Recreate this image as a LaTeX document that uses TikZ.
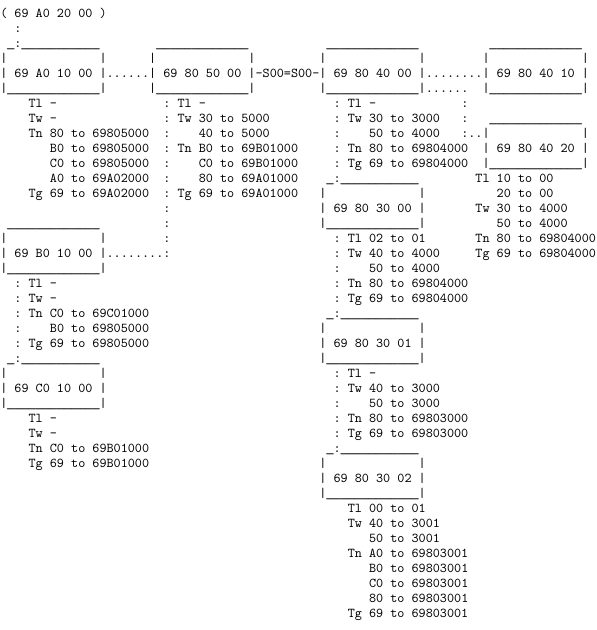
\documentclass[tikz,border=0pt]{standalone}
\usepackage{fontspec}
\usepackage{graphicx}
\usepackage{tikz}
\frenchspacing

% wider underscore, so a run of them reads as one line
\newcommand{\ulchar}{\makebox[0.525em][c]{\scalebox{1.4}[1]{\symbol{95}}}}
\begingroup
\catcode`\_=\active
\gdef_{\ulchar}
\endgroup

\begin{document}
\catcode`\_=\active
\begin{tikzpicture}[
    x=5.32pt, y=-11.25pt,
    txt/.style={anchor=base west, inner sep=0pt, font=\ttfamily\fontsize{10.13pt}{11.25pt}\selectfont}
]
  \useasboundingbox (0,-1.165) rectangle (84.16,40.84);

  % --- ROOT ---
  \node[txt] (root) at (0,0) {( 69 A0 20 00 )};
  \node[txt] (root-a0) at (2,1) {:};

  % --- TOP ROW OF BOXES ---
  \node[txt] (a0-top) at (1,2) {_:___________};
  \node[txt] (m50-top) at (22,2) {_____________};
  \node[txt] (m40-top) at (46,2) {_____________};
  \node[txt] (m41-top) at (69,2) {_____________};

  \node[txt] (a0-side) at (0,3) {|~~~~~~~~~~~~~|};
  \node[txt] (m50-side) at (21,3) {|~~~~~~~~~~~~~|};
  \node[txt] (m40-side) at (45,3) {|~~~~~~~~~~~~~|};
  \node[txt] (m41-side) at (68,3) {|~~~~~~~~~~~~~|};

  \node[txt] (a0) at (0,4) {| 69 A0 10 00 |};
  \node[txt] (a0-m50) at (15,4) {......};
  \node[txt] (m50) at (21,4) {| 69 80 50 00 |};
  \node[txt] (m50-m40) at (36,4) {-S00=S00-};
  \node[txt] (m40) at (45,4) {| 69 80 40 00 |};
  \node[txt] (m40-m41) at (60,4) {........};
  \node[txt] (m41) at (68,4) {| 69 80 40 10 |};

  \node[txt] (a0-bot) at (0,5) {|_____________|};
  \node[txt] (m50-bot) at (21,5) {|_____________|};
  \node[txt] (m40-bot) at (45,5) {|_____________|};
  \node[txt] (m40-m42) at (60,5) {......};
  \node[txt] (m41-bot) at (68,5) {|_____________|};

  % --- 69 A0 10 00 ---
  \node[txt] (a0-1) at (4,6) {Tl -};
  \node[txt] (a0-2) at (4,7) {Tw -};
  \node[txt] (a0-3) at (4,8) {Tn 80 to 69805000};
  \node[txt] (a0-4) at (7,9) {B0 to 69805000};
  \node[txt] (a0-5) at (7,10) {C0 to 69805000};
  \node[txt] (a0-6) at (7,11) {A0 to 69A02000};
  \node[txt] (a0-7) at (4,12) {Tg 69 to 69A02000};

  % --- 69 80 50 00 ---
  \node[txt] (m50-1) at (23,6) {: Tl -};
  \node[txt] (m50-2) at (23,7) {: Tw 30 to 5000};
  \node[txt] (m50-3c) at (23,8) {:};
  \node[txt] (m50-3) at (28,8) {40 to 5000};
  \node[txt] (m50-4) at (23,9) {: Tn B0 to 69B01000};
  \node[txt] (m50-5c) at (23,10) {:};
  \node[txt] (m50-5) at (28,10) {C0 to 69B01000};
  \node[txt] (m50-6c) at (23,11) {:};
  \node[txt] (m50-6) at (28,11) {80 to 69A01000};
  \node[txt] (m50-7) at (23,12) {: Tg 69 to 69A01000};
  \node[txt] (m50-b0a) at (23,13) {:};
  \node[txt] (m50-b0b) at (23,14) {:};
  \node[txt] (m50-b0c) at (23,15) {:};

  % --- 69 80 40 00 ---
  \node[txt] (m40-1) at (47,6) {: Tl -};
  \node[txt] (m40-2) at (47,7) {: Tw 30 to 3000};
  \node[txt] (m40-3c) at (47,8) {:};
  \node[txt] (m40-3) at (52,8) {50 to 4000};
  \node[txt] (m40-4) at (47,9) {: Tn 80 to 69804000};
  \node[txt] (m40-5) at (47,10) {: Tg 69 to 69804000};
  \node[txt] (m42-a) at (65,6) {:};
  \node[txt] (m42-b) at (65,7) {:};

  % --- 69 80 40 20 ---
  \node[txt] (m42-top) at (69,7) {_____________};
  \node[txt] (m42-side) at (65,8) {:..|~~~~~~~~~~~~~|};
  \node[txt] (m42) at (68,9) {| 69 80 40 20 |};
  \node[txt] (m42-bot) at (68,10) {|_____________|};
  \node[txt] (m42-1) at (67,11) {Tl 10 to 00};
  \node[txt] (m42-2) at (70,12) {20 to 00};
  \node[txt] (m42-3) at (67,13) {Tw 30 to 4000};
  \node[txt] (m42-4) at (70,14) {50 to 4000};
  \node[txt] (m42-5) at (67,15) {Tn 80 to 69804000};
  \node[txt] (m42-6) at (67,16) {Tg 69 to 69804000};

  % --- 69 80 30 00 ---
  \node[txt] (m30-top) at (46,11) {_:___________};
  \node[txt] (m30-side) at (45,12) {|~~~~~~~~~~~~~|};
  \node[txt] (m30) at (45,13) {| 69 80 30 00 |};
  \node[txt] (m30-bot) at (45,14) {|_____________|};
  \node[txt] (m30-1) at (47,15) {: Tl 02 to 01};
  \node[txt] (m30-2) at (47,16) {: Tw 40 to 4000};
  \node[txt] (m30-3c) at (47,17) {:};
  \node[txt] (m30-3) at (52,17) {50 to 4000};
  \node[txt] (m30-4) at (47,18) {: Tn 80 to 69804000};
  \node[txt] (m30-5) at (47,19) {: Tg 69 to 69804000};

  % --- 69 80 30 01 ---
  \node[txt] (m31-top) at (46,20) {_:___________};
  \node[txt] (m31-side) at (45,21) {|~~~~~~~~~~~~~|};
  \node[txt] (m31) at (45,22) {| 69 80 30 01 |};
  \node[txt] (m31-bot) at (45,23) {|_____________|};
  \node[txt] (m31-1) at (47,24) {: Tl -};
  \node[txt] (m31-2) at (47,25) {: Tw 40 to 3000};
  \node[txt] (m31-3c) at (47,26) {:};
  \node[txt] (m31-3) at (52,26) {50 to 3000};
  \node[txt] (m31-4) at (47,27) {: Tn 80 to 69803000};
  \node[txt] (m31-5) at (47,28) {: Tg 69 to 69803000};

  % --- 69 80 30 02 ---
  \node[txt] (m32-top) at (46,29) {_:___________};
  \node[txt] (m32-side) at (45,30) {|~~~~~~~~~~~~~|};
  \node[txt] (m32) at (45,31) {| 69 80 30 02 |};
  \node[txt] (m32-bot) at (45,32) {|_____________|};
  \node[txt] (m32-1) at (49,33) {Tl 00 to 01};
  \node[txt] (m32-2) at (49,34) {Tw 40 to 3001};
  \node[txt] (m32-3) at (52,35) {50 to 3001};
  \node[txt] (m32-4) at (49,36) {Tn A0 to 69803001};
  \node[txt] (m32-5) at (52,37) {B0 to 69803001};
  \node[txt] (m32-6) at (52,38) {C0 to 69803001};
  \node[txt] (m32-7) at (52,39) {80 to 69803001};
  \node[txt] (m32-8) at (49,40) {Tg 69 to 69803001};

  % --- 69 B0 10 00 ---
  \node[txt] (b0-top) at (1,14) {_____________};
  \node[txt] (b0-side) at (0,15) {|~~~~~~~~~~~~~|};
  \node[txt] (b0) at (0,16) {| 69 B0 10 00 |};
  \node[txt] (b0-m50) at (15,16) {........:};
  \node[txt] (b0-bot) at (0,17) {|_____________|};
  \node[txt] (b0-1) at (2,18) {: Tl -};
  \node[txt] (b0-2) at (2,19) {: Tw -};
  \node[txt] (b0-3) at (2,20) {: Tn C0 to 69C01000};
  \node[txt] (b0-4c) at (2,21) {:};
  \node[txt] (b0-4) at (7,21) {B0 to 69805000};
  \node[txt] (b0-5) at (2,22) {: Tg 69 to 69805000};

  % --- 69 C0 10 00 ---
  \node[txt] (c0-top) at (1,23) {_:___________};
  \node[txt] (c0-side) at (0,24) {|~~~~~~~~~~~~~|};
  \node[txt] (c0) at (0,25) {| 69 C0 10 00 |};
  \node[txt] (c0-bot) at (0,26) {|_____________|};
  \node[txt] (c0-1) at (4,27) {Tl -};
  \node[txt] (c0-2) at (4,28) {Tw -};
  \node[txt] (c0-3) at (4,29) {Tn C0 to 69B01000};
  \node[txt] (c0-4) at (4,30) {Tg 69 to 69B01000};
\end{tikzpicture}
\end{document}
